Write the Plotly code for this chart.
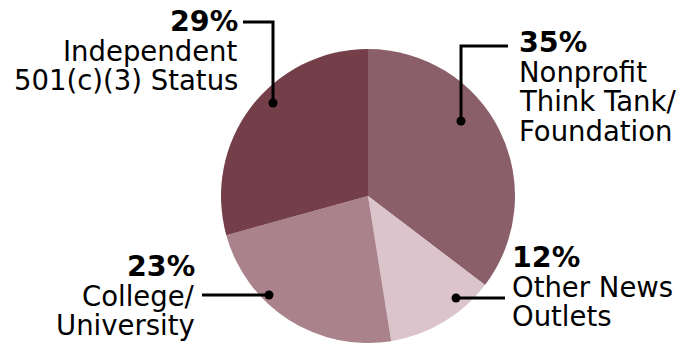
import plotly.graph_objects as go

# Share of funding by organisation type (percent)
categories = ["Nonprofit Think Tank/ Foundation", "Other News Outlets",
              "College/ University", "Independent 501(c)(3) Status"]
shares = [35, 12, 23, 29]
pct_labels = ["35%", "12%", "23%", "29%"]
label_lines = [["Nonprofit", "Think Tank/", "Foundation"],
               ["Other News", "Outlets"],
               ["College/", "University"],
               ["Independent", "501(c)(3) Status"]]
colors = ["#8a5f69", "#dbc4cb", "#a9828b", "#743f49"]

W, H = 681, 343
FONT = "DejaVu Sans"
FS = 27.5
FS_BOLD = 28.5

fig = go.Figure(go.Pie(
    labels=categories, values=shares, sort=False, direction="clockwise",
    rotation=0, textinfo="none", hoverinfo="label+percent",
    marker=dict(colors=colors, line=dict(width=0)),
    domain=dict(x=[(368 - 147) / W, (368 + 147) / W], y=[0, 294 / H]),
    showlegend=False,
))


def px(x):
    return x / W


def py(y):
    return 1 - y / H


# Label callouts: text block anchor, alignment, leader path and dot (pixels)
callouts = [
    dict(side="left", x=517, base=52, path=[(461, 121), (461, 46), (508, 46)]),
    dict(side="left", x=510, base=267, path=[(456, 298), (505, 298)]),
    dict(side="right", x=197, base=276, path=[(269, 295), (202, 295)]),
    dict(side="right", x=240, base=31, path=[(273, 103), (273, 22), (243, 22)]),
]

shapes = []
annotations = []
for i, c in enumerate(callouts):
    anchor = c["side"]
    lines = [(f"<b>{pct_labels[i]}</b>", FS_BOLD)] + [(t, FS) for t in label_lines[i]]
    for j, (t, size) in enumerate(lines):
        base = c["base"] + j * 29.5
        annotations.append(dict(
            x=px(c["x"]), y=py(base - 0.346 * size), xref="paper", yref="paper",
            text=t, showarrow=False, xanchor=anchor, yanchor="middle",
            font=dict(family=FONT, size=size, color="#000000"),
        ))
    pts = c["path"]
    d = "M " + " L ".join(f"{px(x)},{py(y)}" for x, y in pts)
    shapes.append(dict(type="path", path=d, xref="paper", yref="paper",
                       line=dict(color="#000000", width=3)))
    dx, dy = pts[0]
    r = 4.5
    shapes.append(dict(type="circle", xref="paper", yref="paper",
                       x0=px(dx - r), x1=px(dx + r), y0=py(dy + r), y1=py(dy - r),
                       fillcolor="#000000", line=dict(width=0)))

fig.update_layout(
    width=W, height=H, margin=dict(l=0, r=0, t=0, b=0),
    paper_bgcolor="#ffffff", plot_bgcolor="#ffffff",
    shapes=shapes, annotations=annotations,
)

fig.write_html("out.html")
